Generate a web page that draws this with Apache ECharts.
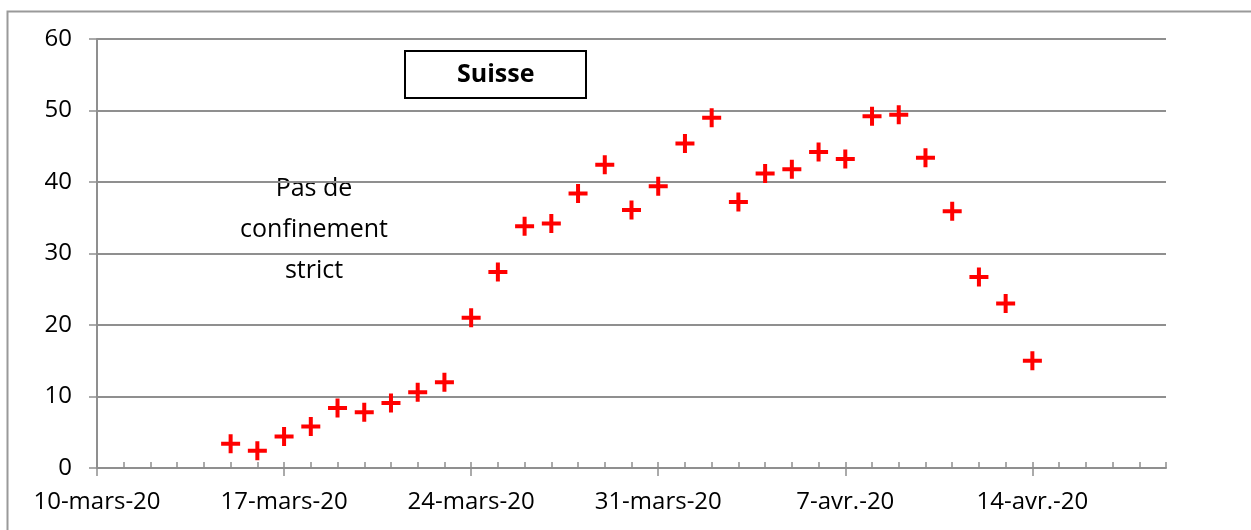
<!DOCTYPE html>
<html>
<head>
<meta charset="utf-8">
<script src="https://cdn.jsdelivr.net/npm/echarts@6/dist/echarts.min.js"></script>
<style>
html,body{margin:0;padding:0;background:#fff;}
#chart{width:1251px;height:530px;}
</style>
</head>
<body>
<div id="chart"></div>
<script>
// ---- data ----
const startDate = '2020-03-10';
const endDate = '2020-04-19';
const dates = [
  '2020-03-15','2020-03-16','2020-03-17','2020-03-18','2020-03-19','2020-03-20','2020-03-21',
  '2020-03-22','2020-03-23','2020-03-24','2020-03-25','2020-03-26','2020-03-27','2020-03-28',
  '2020-03-29','2020-03-30','2020-03-31','2020-04-01','2020-04-02','2020-04-03','2020-04-04',
  '2020-04-05','2020-04-06','2020-04-07','2020-04-08','2020-04-09','2020-04-10','2020-04-11',
  '2020-04-12','2020-04-13','2020-04-14'
];
const values = [
  3.4, 2.4, 4.4, 5.8, 8.4, 7.8, 9.1,
  10.6, 12.0, 21.0, 27.4, 33.8, 34.2, 38.4,
  42.4, 36.1, 39.4, 45.4, 49.0, 37.2, 41.2,
  41.8, 44.2, 43.2, 49.2, 49.4, 43.4, 35.9,
  26.7, 23.0, 15.0
];
const xTickDates = ['2020-03-10','2020-03-17','2020-03-24','2020-03-31','2020-04-07','2020-04-14'];
const xTickLabels = ['10-mars-20','17-mars-20','24-mars-20','31-mars-20','7-avr.-20','14-avr.-20'];
const yTicks = [0, 10, 20, 30, 40, 50, 60];
const titleText = 'Suisse';
const noteText = 'Pas de\nconfinement\nstrict';

// ---- helpers ----
const DAY = 86400000;
function dayIndex(d) {
  const p = d.split('-').map(Number);
  const s = startDate.split('-').map(Number);
  return Math.round((Date.UTC(p[0], p[1]-1, p[2]) - Date.UTC(s[0], s[1]-1, s[2])) / DAY);
}
const xMax = dayIndex(endDate);
const tickIdx = xTickDates.map(dayIndex);
const allDays = [];
for (let i = 0; i <= xMax; i++) allDays.push(i);
const seriesData = dates.map((d, i) => [dayIndex(d), values[i]]);

const FONT = 'Open Sans';
const GRID_COLOR = '#8f8f8f';
const plusPath = 'path://M0,7.5L19,7.5L19,11.5L0,11.5Z M7.5,0L11.5,0L11.5,19L7.5,19Z';

const chart = echarts.init(document.getElementById('chart'), null, {renderer: 'canvas'});
chart.setOption({
  animation: false,
  backgroundColor: '#fff',
  title: {
    text: titleText,
    left: 405, top: 51,
    padding: [11, 52, 11, 52],
    borderColor: '#000', borderWidth: 2,
    textStyle: {fontFamily: FONT, fontSize: 25, fontWeight: 'bold', color: '#000'}
  },
  grid: {left: 97, right: 85, top: 39, bottom: 62, containLabel: false},
  xAxis: [
    {
      type: 'value', min: 0, max: xMax, interval: 1,
      axisLine: {show: true, lineStyle: {color: GRID_COLOR, width: 2}},
      axisTick: {show: true, inside: true, length: 6, lineStyle: {color: GRID_COLOR, width: 1.5},
        customValues: allDays},
      axisLabel: {show: false},
      splitLine: {show: false}
    },
    {
      type: 'value', min: 0, max: xMax, position: 'bottom', gridIndex: 0,
      axisLine: {show: false},
      axisTick: {show: true, inside: false, length: 8, lineStyle: {color: GRID_COLOR, width: 1.5},
        customValues: tickIdx},
      axisLabel: {
        show: true, customValues: tickIdx, margin: 22,
        fontFamily: FONT, fontSize: 24, color: '#000',
        formatter: v => { const k = tickIdx.indexOf(v); return k >= 0 ? xTickLabels[k] : ''; }
      },
      splitLine: {show: false}
    }
  ],
  yAxis: {
    type: 'value', min: 0, max: 60, interval: 10,
    axisLine: {show: true, lineStyle: {color: GRID_COLOR, width: 2}},
    axisTick: {show: true, inside: false, length: 8, lineStyle: {color: GRID_COLOR, width: 1.5}},
    axisLabel: {margin: 25, fontFamily: FONT, fontSize: 24, color: '#000',
      formatter: v => yTicks.includes(v) ? String(v) : ''},
    splitLine: {show: true, lineStyle: {color: GRID_COLOR, width: 2}}
  },
  graphic: [
    {
      type: 'rect', left: 5, top: 9, silent: true, z: -1,
      shape: {width: 1265, height: 540},
      style: {fill: 'none', stroke: '#9a9a9a', lineWidth: 2}
    },
    {
      type: 'text', x: 314, y: 230, silent: true,
      style: {text: noteText, textAlign: 'center', textVerticalAlign: 'middle',
        fontFamily: FONT, fontSize: 25, lineHeight: 41, fill: '#000'}
    }
  ],
  series: [{
    type: 'scatter',
    xAxisIndex: 0,
    data: seriesData,
    symbol: plusPath,
    symbolSize: [19, 19],
    itemStyle: {color: '#ff0000', opacity: 1},
    emphasis: {disabled: true}
  }]
});
</script>
</body>
</html>
